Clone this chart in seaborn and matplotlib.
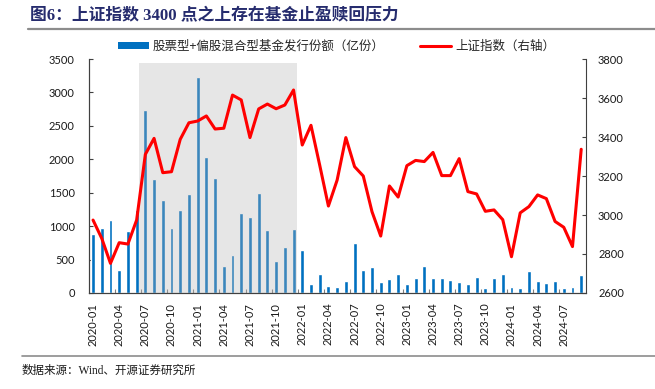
import seaborn as sns
from matplotlib import pyplot as plt
from matplotlib.lines import Line2D
from matplotlib.patches import Patch
import numpy as np
import pandas as pd

# monthly categories 2020-01 .. 2024-09
months = [str(p) for p in pd.period_range("2020-01", "2024-09", freq="M")]

# 股票型+偏股混合型基金发行份额（亿份）
fund_issue = [
    887, 967, 1092, 344, 927, 1241, 2742, 1705, 1396, 972, 1236, 1481,
    3235, 2034, 1720, 404, 563, 1196, 1132, 1500, 937, 479, 688, 962,
    640, 130, 279, 105, 85, 184, 743, 344, 389, 165, 209, 284,
    135, 224, 404, 219, 224, 199, 170, 140, 234, 75, 219, 284,
    85, 75, 324, 179, 150, 179, 80, 90, 269,
]

# 上证指数（右轴）
sh_index = [
    2974, 2880, 2752, 2858, 2851, 2974, 3311, 3393, 3217, 3222, 3388, 3473,
    3482, 3508, 3441, 3445, 3615, 3590, 3397, 3544, 3569, 3545, 3564, 3641,
    3359, 3460, 3256, 3046, 3179, 3397, 3248, 3200, 3017, 2892, 3149, 3092,
    3253, 3280, 3274, 3321, 3202, 3202, 3289, 3120, 3108, 3019, 3026, 2976,
    2786, 3011, 3043, 3103, 3084, 2967, 2937, 2838, 3337,
]

# shaded period (category positions)
shade_start, shade_end = 5.3, 23.4

bar_label = "股票型+偏股混合型基金发行份额（亿份）"
line_label = "上证指数（右轴）"
title = "图6：上证指数 3400 点之上存在基金止盈赎回压力"
source = "数据来源：Wind、开源证券研究所"

df = pd.DataFrame({"month": months, "issue": fund_issue, "index": sh_index})
df["pos"] = np.arange(len(df))

sns.set_style("ticks")
plt.rcParams["font.family"] = ["Lato", "Noto Sans CJK SC", "DejaVu Sans"]

fig = plt.figure(figsize=(6.55, 3.89), dpi=100)
ax = fig.add_axes([0.1354, 0.2468, 0.7586, 0.6015])

bar_color = "#0070C0"
line_color = "#FF0000"
text_color = "#1a1a1a"

sns.barplot(data=df, x="month", y="issue", ax=ax, color=bar_color,
            saturation=1, width=0.45, errorbar=None, zorder=1)
# translucent grey band over the bars
ax.axvspan(shade_start, shade_end, ymin=0, ymax=0.9816,
           color="#b4b4b4", alpha=0.33, lw=0, zorder=2)

ax.set_xlim(-0.5, len(months) - 0.5)
ax.set_ylim(0, 3500)
ax.set_yticks(np.arange(0, 3501, 500))
ax.set_xticks(np.arange(0, len(months), 3))
ax.set_xticklabels(months[::3], rotation=90)
ax.set_xticks(np.arange(2.5, len(months) - 0.5, 3), minor=True)
ax.set_xlabel("")
ax.set_ylabel("")

ax2 = ax.twinx()
sns.lineplot(data=df, x="pos", y="index", ax=ax2, color=line_color,
             lw=2.2, zorder=5)
ax2.set_ylim(2600, 3800)
ax2.set_yticks(np.arange(2600, 3801, 200))
ax2.set_xlim(-0.5, len(months) - 0.5)
ax2.set_xlabel("")
ax2.set_ylabel("")

for a in (ax, ax2):
    for s in a.spines.values():
        s.set_color("#404040")
        s.set_linewidth(0.8)
    a.spines["top"].set_visible(False)

ax.spines["right"].set_visible(False)
ax.tick_params(axis="y", direction="in", length=3, pad=10, labelsize=8,
               colors="#404040", labelcolor=text_color)
ax.tick_params(axis="x", which="major", length=0, pad=7, labelsize=8,
               labelcolor=text_color)
ax.tick_params(axis="x", which="minor", direction="in", length=3,
               color="#808080", width=0.8)
ax2.tick_params(axis="y", direction="in", length=3, pad=9, labelsize=8,
                colors="#404040", labelcolor=text_color)

handles = [
    Patch(facecolor=bar_color, edgecolor="none", label=bar_label),
    Line2D([], [], color=line_color, lw=2.2, label=line_label),
]
fig.legend(handles=handles, loc="center left", bbox_to_anchor=(118 / 655, 1 - 46 / 389),
           ncol=2, frameon=False, handlelength=2.5, handleheight=0.5,
           handletextpad=0.3, columnspacing=2.8, borderpad=0, borderaxespad=0,
           prop={"family": ["Noto Sans CJK SC"], "size": 9})

fig.text(30 / 655, 1 - 16 / 389, title, fontsize=12.1, fontweight="bold",
         color="#262C6E", va="center", ha="left",
         family=["Liberation Serif", "Noto Sans CJK SC"])
fig.add_artist(Line2D([28 / 655, 1], [1 - 29 / 389] * 2, color="#8c8c8c", lw=1.6,
                      transform=fig.transFigure))
fig.add_artist(Line2D([22 / 655, 1], [1 - 356 / 389] * 2, color="#8c8c8c", lw=1.2,
                      transform=fig.transFigure))
fig.text(22 / 655, 1 - 371 / 389, source, fontsize=8.3, color=text_color,
         va="center", ha="left", family=["Liberation Serif", "Noto Sans CJK SC"])

fig.savefig("out.png", dpi=100)
